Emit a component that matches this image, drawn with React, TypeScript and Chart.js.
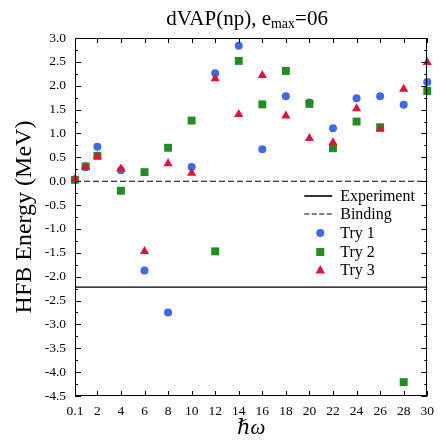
import React, { useEffect, useRef } from 'react';
import { Chart, registerables } from 'chart.js';

Chart.register(...registerables);

// ---- data ----
const hw = [0.1, 1, 2, 4, 6, 8, 10, 12, 14, 16, 18, 20, 22, 24, 26, 28, 30];
const try1 = [0.03, 0.29, 0.72, 0.23, -1.87, -2.75, 0.3, 2.26, 2.84, 0.67, 1.78, 1.65, 1.11, 1.74, 1.78, 1.6, 2.08];
const try2 = [0.03, 0.31, 0.53, -0.2, 0.19, 0.7, 1.27, -1.47, 2.52, 1.61, 2.31, 1.62, 0.69, 1.25, 1.13, -4.21, 1.89];
const try3 = [0.04, 0.3, 0.52, 0.26, -1.47, 0.37, 0.17, 2.15, 1.4, 2.22, 1.37, 0.9, 0.81, 1.52, 1.09, 1.93, 2.49];
const experimentEnergy = -2.22;
const bindingEnergy = 0;
const xTickValues = [0.1, 2, 4, 6, 8, 10, 12, 14, 16, 18, 20, 22, 24, 26, 28, 30];
const xMin = 0.1;
const xMax = 30;
const yMin = -4.5;
const yMax = 3.0;
const yStep = 0.5;
const yMinorStep = 0.25;

const titleMain = 'dVAP(np), e';
const titleSub = 'max';
const titleEnd = '=06';
const yTitle = 'HFB Energy (MeV)';
const xTitle = 'ℏω';
const seriesNames = ['Experiment', 'Binding', 'Try 1', 'Try 2', 'Try 3'];

const BLUE = '#4169E1';
const GREEN = '#228B22';
const RED = '#DC143C';
const FONT = '"Liberation Serif", "DejaVu Serif", serif';

const framePlugin = {
  id: 'frameTicksLegend',
  afterDraw(chart: any) {
    const { ctx, chartArea: a, scales } = chart;
    const xs = scales.x;
    const ys = scales.y;
    ctx.save();
    ctx.strokeStyle = '#000';
    ctx.lineWidth = 1;
    // frame
    ctx.strokeRect(Math.round(a.left) + 0.5, Math.round(a.top) + 0.5, Math.round(a.right - a.left) - 1, Math.round(a.bottom - a.top) - 1);
    // x ticks (inward, top & bottom)
    ctx.beginPath();
    for (const v of xTickValues) {
      const px = Math.round(xs.getPixelForValue(v)) + 0.5;
      ctx.moveTo(px, a.bottom);
      ctx.lineTo(px, a.bottom - 5);
      ctx.moveTo(px, a.top);
      ctx.lineTo(px, a.top + 5);
    }
    // y ticks
    const n = Math.round((yMax - yMin) / yMinorStep);
    for (let i = 0; i <= n; i++) {
      const v = yMin + i * yMinorStep;
      const major = i % Math.round(yStep / yMinorStep) === 0;
      const len = major ? 6 : 3;
      const py = Math.round(ys.getPixelForValue(v)) + 0.5;
      ctx.moveTo(a.left, py);
      ctx.lineTo(a.left + len, py);
      ctx.moveTo(a.right, py);
      ctx.lineTo(a.right - len, py);
    }
    ctx.stroke();

    // legend
    const lineX0 = a.right - 123;
    const lineX1 = a.right - 95;
    const markX = a.right - 107;
    const textX = a.right - 87;
    const rowsY = [a.bottom - 200, a.bottom - 182, a.bottom - 163, a.bottom - 144, a.bottom - 126];
    ctx.font = `16px ${FONT}`;
    ctx.fillStyle = '#000';
    ctx.textBaseline = 'middle';
    ctx.textAlign = 'left';
    seriesNames.forEach((name, i) => {
      const y = rowsY[i];
      ctx.fillText(name, textX, y + 1);
    });
    // Experiment solid
    ctx.beginPath();
    ctx.lineWidth = 1.6;
    ctx.setLineDash([]);
    ctx.moveTo(lineX0, rowsY[0]);
    ctx.lineTo(lineX1, rowsY[0]);
    ctx.stroke();
    // Binding dashed
    ctx.beginPath();
    ctx.lineWidth = 1.2;
    ctx.setLineDash([5, 2.5]);
    ctx.moveTo(lineX0, rowsY[1]);
    ctx.lineTo(lineX1, rowsY[1]);
    ctx.stroke();
    ctx.setLineDash([]);
    // markers
    ctx.fillStyle = BLUE;
    ctx.beginPath();
    ctx.arc(markX, rowsY[2], 4, 0, Math.PI * 2);
    ctx.fill();
    ctx.fillStyle = GREEN;
    ctx.fillRect(markX - 4, rowsY[3] - 4, 8, 8);
    ctx.fillStyle = RED;
    ctx.beginPath();
    ctx.moveTo(markX, rowsY[4] - 5);
    ctx.lineTo(markX + 4.7, rowsY[4] + 3.5);
    ctx.lineTo(markX - 4.7, rowsY[4] + 3.5);
    ctx.closePath();
    ctx.fill();

    // title with subscript
    const cx = (a.left + a.right) / 2 - 4;
    const baseY = 25;
    ctx.fillStyle = '#000';
    ctx.textBaseline = 'alphabetic';
    const mainFont = `21px ${FONT}`;
    const subFont = `14px ${FONT}`;
    ctx.font = mainFont;
    const w1 = ctx.measureText(titleMain).width;
    const w3 = ctx.measureText(titleEnd).width;
    ctx.font = subFont;
    const w2 = ctx.measureText(titleSub).width;
    let x = cx - (w1 + w2 + w3) / 2;
    ctx.font = mainFont;
    ctx.fillText(titleMain, x, baseY);
    x += w1;
    ctx.font = subFont;
    ctx.fillText(titleSub, x, baseY + 3);
    x += w2;
    ctx.font = mainFont;
    ctx.fillText(titleEnd, x, baseY);
    ctx.restore();
  },
};

export default function App() {
  const canvasRef = useRef<HTMLCanvasElement | null>(null);

  useEffect(() => {
    document.body.style.margin = '0';
    const canvas = canvasRef.current;
    if (!canvas) return;
    const toXY = (ys: number[]) => hw.map((x, i) => ({ x, y: ys[i] }));
    const chart = new Chart(canvas, {
      type: 'scatter',
      data: {
        datasets: [
          {
            label: 'Try 3',
            data: toXY(try3),
            pointStyle: 'triangle',
            pointRadius: 5.3,
            backgroundColor: RED,
            borderColor: RED,
            borderWidth: 0,
            order: 1,
          },
          {
            label: 'Try 2',
            data: toXY(try2),
            pointStyle: 'rect',
            pointRadius: 5.6,
            backgroundColor: GREEN,
            borderColor: GREEN,
            borderWidth: 0,
            order: 2,
          },
          {
            label: 'Try 1',
            data: toXY(try1),
            pointStyle: 'circle',
            pointRadius: 4,
            backgroundColor: BLUE,
            borderColor: BLUE,
            borderWidth: 0,
            order: 3,
          },
          {
            type: 'line',
            label: 'Experiment',
            data: [
              { x: xMin, y: experimentEnergy },
              { x: xMax, y: experimentEnergy },
            ],
            borderColor: '#000',
            borderWidth: 1.4,
            pointRadius: 0,
            showLine: true,
            order: 5,
          },
          {
            type: 'line',
            label: 'Binding',
            data: [
              { x: xMin, y: bindingEnergy },
              { x: xMax, y: bindingEnergy },
            ],
            borderColor: '#000',
            borderWidth: 1.1,
            borderDash: [6, 3],
            pointRadius: 0,
            showLine: true,
            order: 4,
          },
        ],
      } as any,
      options: {
        animation: false,
        responsive: false,
        maintainAspectRatio: false,
        clip: false as any,
        layout: { padding: { left: 0, right: 9, top: 38, bottom: 0 } },
        plugins: {
          legend: { display: false },
          tooltip: { enabled: false },
          title: { display: false },
        },
        scales: {
          x: {
            type: 'linear',
            min: xMin,
            max: xMax,
            grid: { display: false, drawTicks: false },
            border: { display: false },
            afterBuildTicks: (scale: any) => {
              scale.ticks = xTickValues.map((v) => ({ value: v }));
            },
            afterFit: (scale: any) => {
              scale.height = 45;
            },
            ticks: {
              autoSkip: false,
              maxRotation: 0,
              padding: 7,
              color: '#000',
              font: { family: FONT, size: 13.5 },
              callback: (v: any) => (Number(v) < 1 ? Number(v).toFixed(1) : String(v)),
            },
            title: {
              display: true,
              text: xTitle,
              color: '#000',
              font: { family: FONT, size: 21, style: 'italic' },
              padding: { top: 0, bottom: 0 },
            },
          },
          y: {
            type: 'linear',
            min: yMin,
            max: yMax,
            grid: { display: false, drawTicks: false },
            border: { display: false },
            afterFit: (scale: any) => {
              scale.width = 75;
            },
            ticks: {
              stepSize: yStep,
              padding: 9,
              color: '#000',
              font: { family: FONT, size: 13.5 },
              callback: (v: any) => Number(v).toFixed(1),
            },
            title: {
              display: true,
              text: yTitle,
              color: '#000',
              font: { family: FONT, size: 24 },
              padding: { top: 10, bottom: 0 },
            },
          },
        },
      } as any,
      plugins: [framePlugin],
    });
    return () => chart.destroy();
  }, []);

  return (
    <div style={{ position: 'absolute', left: 0, top: 0, width: 441, height: 441 }}>
      <canvas ref={canvasRef} width={441} height={441} style={{ width: 441, height: 441 }} />
    </div>
  );
}
